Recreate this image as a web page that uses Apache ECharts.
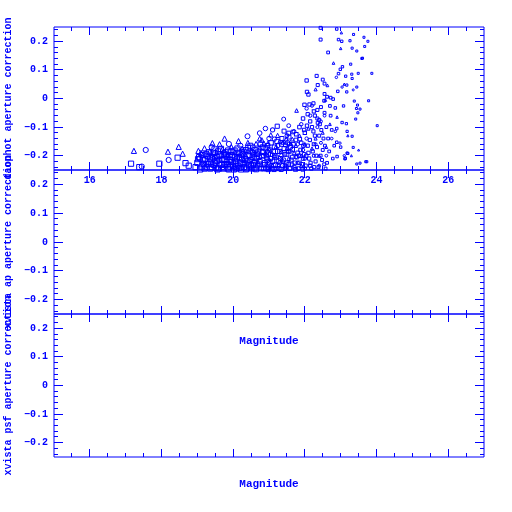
<!DOCTYPE html>
<html><head><meta charset="utf-8">
<script src="https://cdn.jsdelivr.net/npm/echarts@6/dist/echarts.min.js"></script>
<style>html,body{margin:0;padding:0;background:#fff}#c{width:512px;height:512px}</style>
</head><body><div id="c"></div>
<script>
const xMajorTicks = [16, 18, 20, 22, 24, 26];
const xMinorTicks = [15.5,16,16.5,17,17.5,18,18.5,19,19.5,20,20.5,21,21.5,22,22.5,23,23.5,24,24.5,25,25.5,26,26.5];
const yMajorTicks = [-0.2, -0.1, 0, 0.1, 0.2];
const yMinorTicks = [-0.24,-0.22,-0.2,-0.18,-0.16,-0.14,-0.12,-0.1,-0.08,-0.06,-0.04,-0.02,0,0.02,0.04,0.06,0.08,0.1,0.12,0.14,0.16,0.18,0.2,0.22,0.24];
const yTitles = ['daophot aperture correction', 'xvista ap aperture correction', 'xvista psf aperture correction'];
const xTitle = 'Magnitude';

const triangles = [
[17.23,-0.183],[18.18,-0.186],[18.48,-0.169],[18.59,-0.193],
[19.03,-0.183],[19.2,-0.174],[19.42,-0.156],[19.62,-0.16],[19.76,-0.14],[20.15,-0.149],[20.41,-0.155],[20.64,-0.158],[20.74,-0.14],[20.8,-0.145],[20.86,-0.157],[20.97,-0.157],[21.05,-0.127],[21.24,-0.129],[21.3,-0.15],[21.39,-0.153],[21.48,-0.142],[21.65,-0.142],[21.61,-0.158],
[19.1,-0.19],[19.35,-0.185],[19.5,-0.2],[19.7,-0.178],[19.85,-0.195],[19.95,-0.17],[20.05,-0.188],[20.25,-0.175],[20.35,-0.2],[20.5,-0.182],[20.6,-0.195],[20.75,-0.172],[20.9,-0.19],[21.0,-0.175],[21.15,-0.2],[21.2,-0.168],[21.35,-0.185],[21.5,-0.175],[21.55,-0.21],[21.7,-0.19],[21.75,-0.165],[21.85,-0.13],[21.9,-0.2],[22.0,-0.16],[22.1,-0.105],[22.2,-0.175],[22.3,-0.14],[22.4,-0.2],[22.5,-0.12],[22.6,-0.17],
[21.77,-0.042],[22.3,0.032],[22.63,0.046],[22.57,-0.005],[23.0,0.175],[23.02,0.23],[22.8,0.124],[22.9,-0.065],[23.2,-0.13],[23.3,-0.2],[23.5,-0.18],[23.1,0.05],[22.7,-0.09],
[19.3,-0.22],[19.8,-0.23],[20.3,-0.215],[20.7,-0.225],[21.1,-0.235],[21.4,-0.22],[21.9,-0.235]
];
const circles = [
[17.56,-0.18],[17.45,-0.238],[18.2,-0.215],[19.07,-0.211],[19.88,-0.159],[20.4,-0.132],[20.74,-0.121],[21.41,-0.072],[21.1,-0.11],[21.55,-0.095],[21.0,-0.14],[20.2,-0.165],[19.5,-0.19],[19.3,-0.205],[19.6,-0.215],[19.9,-0.2],[20.1,-0.21],[20.3,-0.185],[20.55,-0.17],[20.6,-0.22],[20.85,-0.2],[21.05,-0.18],[21.25,-0.165],[21.35,-0.2],[21.5,-0.13],[21.6,-0.185],[21.7,-0.115],[21.8,-0.16],[21.9,-0.09],[21.95,-0.18],[22.05,-0.14],[22.15,-0.06],[22.25,-0.2],[22.35,-0.1],[22.45,-0.155],[22.55,-0.06],[22.6,-0.2],[22.75,-0.14],[22.88,0.074],[23.04,0.04],[23.35,0.03],[22.85,-0.115],[22.98,-0.156],[23.1,-0.2],
[19.2,-0.235],[19.7,-0.24],[20.0,-0.225],[20.45,-0.24],[20.95,-0.23],[21.2,-0.245],[21.45,-0.235],[21.8,-0.225],[22.0,-0.245],[22.4,-0.235],[19.4,-0.17],[20.9,-0.105],[22.05,-0.035],[22.2,-0.025]
];
const circlesMass = [
[19.15,-0.228],[19.45,-0.212],[19.75,-0.19],[20.05,-0.24],[20.22,-0.198],[20.5,-0.212],[20.7,-0.195],[20.95,-0.185],[21.15,-0.142],[21.3,-0.225],[21.55,-0.16],[21.75,-0.205],[22.0,-0.21],[22.3,-0.16],[22.45,-0.08]
];
const squares = [
[17.15,-0.228],[17.38,-0.24],[17.94,-0.228],[18.45,-0.207],[18.67,-0.226],[18.76,-0.235],[18.95,-0.24],[19.0,-0.225],[19.05,-0.205],[19.15,-0.215],[19.2,-0.245],[19.25,-0.195],[19.3,-0.23],[19.35,-0.21],[19.4,-0.24],[19.45,-0.19],[19.5,-0.225],[19.55,-0.205],[19.6,-0.245],[19.65,-0.195],[19.7,-0.215],[19.75,-0.23],[19.8,-0.2],[19.85,-0.245],[19.9,-0.215],[19.95,-0.185],[20.0,-0.235],[20.05,-0.205],[20.1,-0.245],[20.15,-0.19],[20.2,-0.225],[20.25,-0.21],[20.3,-0.24],[20.35,-0.18],[20.4,-0.22],[20.45,-0.2],[20.5,-0.235],[20.55,-0.19],[20.6,-0.245],[20.65,-0.21],[20.7,-0.185],[20.75,-0.23],[20.8,-0.2],[20.85,-0.245],[20.9,-0.175],[20.95,-0.215],[21.0,-0.24],[21.05,-0.195],[21.1,-0.22],[21.15,-0.17],[21.2,-0.205],[21.23,-0.097],[21.25,-0.235],[21.3,-0.185],[21.35,-0.16],[21.42,-0.114],[21.4,-0.215],[21.45,-0.245],[21.5,-0.195],[21.55,-0.121],[21.55,-0.23],[21.6,-0.17],[21.65,-0.205],[21.67,-0.117],[21.7,-0.24],[21.75,-0.145],[21.8,-0.19],[21.85,-0.225],[21.9,-0.155],[21.95,-0.21],[21.99,-0.022],[22.0,-0.12],[22.05,0.063],[22.06,0.023],[22.1,-0.19],[22.13,-0.021],[22.15,-0.235],[22.2,-0.1],[22.24,-0.017],[22.25,-0.16],[22.3,-0.22],[22.35,-0.07],[22.4,-0.13],
[22.44,0.247],[22.44,0.206],[22.5,0.066],[22.5,-0.18],[22.54,-0.008],[22.55,0.016],[22.55,-0.05],[22.62,0.006],[22.62,-0.225],[22.65,0.161],[22.7,-0.026],[22.72,0.003],[22.79,-0.002],[22.85,-0.033],[22.89,-0.105],[22.89,-0.153],[22.9,-0.203],[22.94,0.206],[22.89,0.243],[22.94,0.087],[22.99,0.102],[23.03,0.2],[23.05,0.111],[23.08,-0.026],[23.12,-0.211],[23.14,0.078],[23.16,-0.088],[23.17,0.023],[23.17,0.047],[23.18,-0.115],[23.18,-0.191],[23.26,0.202],[23.28,0.12],[23.31,0.085],[23.32,0.176],[23.32,0.07],[23.32,-0.132],[23.35,-0.171],[23.36,0.224],[23.38,-0.009],[23.42,-0.072],[23.44,-0.035],[23.45,0.166],[23.45,0.04],[23.45,-0.229],[23.47,-0.023],[23.48,-0.05],[23.49,0.088],[23.54,-0.037],[23.59,0.14],[23.61,0.141],[23.65,0.214],[23.67,0.182],[23.7,-0.221],[23.76,0.2],[23.78,-0.008],[23.87,0.088],[24.02,-0.095],[23.0,-0.17],[23.13,-0.209],[23.2,-0.192],[23.54,-0.226],[23.73,-0.221],[23.04,-0.084],[22.36,0.047],[22.55,0.052],[22.33,0.079],[22.1,0.014],[22.92,0.025],
[19.12,-0.238],[19.28,-0.2],[19.38,-0.228],[19.52,-0.242],[19.58,-0.185],[19.68,-0.232],[19.78,-0.188],[19.82,-0.222],[19.92,-0.238],[19.98,-0.205],[20.08,-0.228],[20.12,-0.175],[20.18,-0.242],[20.28,-0.195],[20.32,-0.225],[20.38,-0.245],[20.42,-0.172],[20.48,-0.215],[20.52,-0.245],[20.58,-0.225],[20.62,-0.18],[20.68,-0.235],[20.72,-0.205],[20.78,-0.245],[20.82,-0.17],[20.88,-0.225],[20.92,-0.245],[20.98,-0.195],[21.02,-0.225],[21.08,-0.245],[21.12,-0.185],[21.18,-0.232],[21.22,-0.15],[21.28,-0.245],[21.32,-0.21],[21.38,-0.235],[21.42,-0.175],[21.48,-0.225],[21.52,-0.155],[21.58,-0.245],[21.62,-0.215],[21.68,-0.16],[21.72,-0.225],[21.78,-0.205],[21.82,-0.245],[21.88,-0.18],[21.92,-0.23],[21.98,-0.195],[22.02,-0.235],[22.08,-0.165],[22.12,-0.21],[22.18,-0.245],[22.22,-0.185],[22.28,-0.13],[22.32,-0.2],[22.38,-0.24],[22.42,-0.09],[22.48,-0.215],[22.52,-0.14],[22.58,-0.245],[22.68,-0.185],[22.72,-0.06],[22.78,-0.21],[22.82,-0.165],[21.95,-0.07],[22.08,-0.055],[22.25,-0.045],[22.35,-0.04],[22.45,-0.03],[21.85,-0.1],[22.15,-0.08],[22.28,-0.06],[22.4,-0.075],[22.6,-0.1],[22.65,-0.14],[22.75,-0.11]
];
const squaresMass = [
[19.02,-0.212],[19.08,-0.248],[19.14,-0.198],[19.18,-0.228],[19.22,-0.212],[19.26,-0.24],[19.32,-0.188],[19.36,-0.245],[19.42,-0.205],[19.46,-0.232],[19.48,-0.178],
[19.54,-0.218],[19.56,-0.248],[19.62,-0.2],[19.64,-0.228],[19.66,-0.176],[19.72,-0.245],[19.74,-0.198],[19.76,-0.212],[19.84,-0.23],[19.86,-0.182],[19.88,-0.248],[19.94,-0.222],[19.96,-0.198],
[20.02,-0.248],[20.04,-0.182],[20.06,-0.218],[20.14,-0.235],[20.16,-0.205],[20.22,-0.248],[20.24,-0.188],[20.26,-0.228],[20.34,-0.212],[20.36,-0.248],[20.44,-0.232],[20.46,-0.185],[20.48,-0.165],
[20.54,-0.205],[20.56,-0.232],[20.64,-0.248],[20.66,-0.192],[20.74,-0.218],[20.76,-0.16],[20.84,-0.188],[20.86,-0.232],[20.94,-0.205],[20.96,-0.165],[20.98,-0.248],
[21.04,-0.21],[21.06,-0.155],[21.14,-0.248],[21.16,-0.2],[21.24,-0.185],[21.26,-0.218],[21.34,-0.248],[21.36,-0.14],[21.44,-0.195],[21.46,-0.162],[21.48,-0.24],
[21.54,-0.185],[21.56,-0.135],[21.64,-0.232],[21.66,-0.178],[21.74,-0.248],[21.76,-0.125],[21.84,-0.2],[21.86,-0.142],[21.94,-0.248],[21.96,-0.165],[21.98,-0.11],
[22.04,-0.2],[22.06,-0.095],[22.14,-0.145],[22.16,-0.225],[22.24,-0.115],[22.26,-0.24],[22.34,-0.17],[22.36,-0.085],[22.44,-0.2],[22.46,-0.11],[22.54,-0.23],[22.56,-0.165]
];

const BLUE = '#0000ff';
const FONT = 'Liberation Mono';
const gridTops = [27, 170, 314];
const gridHeights = [143, 144, 143];
const X0 = 15, X1 = 27, Y0 = -0.25, Y1 = 0.25;

const grids = [], xAxes = [], yAxes = [], series = [];
gridTops.forEach((top, i) => {
  grids.push({left: 54, top: top, width: 430, height: gridHeights[i], show: true, borderColor: BLUE, borderWidth: 1,
    backgroundColor: 'rgba(0,0,0,0)', containLabel: false, outerBoundsMode: 'none'});
  xAxes.push({gridIndex: i, type: 'value', min: X0, max: X1, position: 'bottom',
    splitLine: {show: false}, axisLine: {show: false, onZero: false}, axisTick: {show: false},
    name: i > 0 ? xTitle : '', nameLocation: 'middle', nameGap: 22,
    nameTextStyle: {color: BLUE, fontFamily: FONT, fontWeight: 'bold', fontSize: 11, verticalAlign: 'top'},
    axisLabel: {show: i === 0, customValues: xMajorTicks, margin: 5, color: BLUE, fontFamily: FONT, fontWeight: 'bold', fontSize: 10}
  });
  yAxes.push({gridIndex: i, type: 'value', min: Y0, max: Y1, position: 'left',
    splitLine: {show: false}, axisLine: {show: false, onZero: false}, axisTick: {show: false},
    name: yTitles[i], nameLocation: 'middle', nameGap: 34, nameRotate: 90,
    nameTextStyle: {color: BLUE, fontFamily: FONT, fontWeight: 'bold', fontSize: 10},
    axisLabel: {show: true, customValues: yMajorTicks, margin: 6, color: BLUE, fontFamily: FONT, fontWeight: 'bold', fontSize: 10,
      formatter: v => String(Math.round(v * 10) / 10).replace('-', '\u2212')}
  });
});

function symSize(v) {
  const s = 5.2 - (v[0] - 20.2) * 1.0;
  return Math.max(2, Math.min(5.2, s));
}
function mkSeries(data, symbol) {
  return {type: 'scatter', xAxisIndex: 0, yAxisIndex: 0, data: data, symbol: symbol, symbolSize: symSize,
    itemStyle: {color: 'rgba(0,0,0,0)', borderColor: BLUE, borderWidth: 1, opacity: 1},
    emphasis: {disabled: true}, clip: true, silent: true};
}
series.push(mkSeries(squares.concat(squaresMass), 'rect'));
series.push(mkSeries(circles.concat(circlesMass), 'circle'));
series.push(mkSeries(triangles, 'triangle'));

const chart = echarts.init(document.getElementById('c'), null, {renderer: 'canvas'});
chart.setOption({
  animation: false,
  backgroundColor: '#fff',
  grid: grids, xAxis: xAxes, yAxis: yAxes,
  series: series
});

// Tick marks placed through the library's own scales (convertToPixel), on all four sides of each panel.
function snap(p) { return Math.round(p - 0.5) + 0.5; }
const tickEls = [];
const st = {stroke: BLUE, lineWidth: 1};
gridTops.forEach((top, i) => {
  const f = {gridIndex: i};
  const addX = (v, len) => {
    const b = chart.convertToPixel(f, [v, Y0]), t = chart.convertToPixel(f, [v, Y1]);
    const x = snap(b[0]);
    tickEls.push({type: 'line', silent: true, shape: {x1: x, y1: b[1], x2: x, y2: b[1] - len}, style: st, z: 10});
    tickEls.push({type: 'line', silent: true, shape: {x1: x, y1: t[1], x2: x, y2: t[1] + len}, style: st, z: 10});
  };
  const addY = (v, len) => {
    const l = chart.convertToPixel(f, [X0, v]), r = chart.convertToPixel(f, [X1, v]);
    const y = snap(l[1]);
    tickEls.push({type: 'line', silent: true, shape: {x1: l[0], y1: y, x2: l[0] + len, y2: y}, style: st, z: 10});
    tickEls.push({type: 'line', silent: true, shape: {x1: r[0], y1: y, x2: r[0] - len, y2: y}, style: st, z: 10});
  };
  xMinorTicks.forEach(v => addX(v, 4));
  xMajorTicks.forEach(v => addX(v, 8));
  yMinorTicks.forEach(v => addY(v, 4));
  yMajorTicks.forEach(v => addY(v, 9));
});
chart.setOption({graphic: {elements: tickEls}});
</script></body></html>
